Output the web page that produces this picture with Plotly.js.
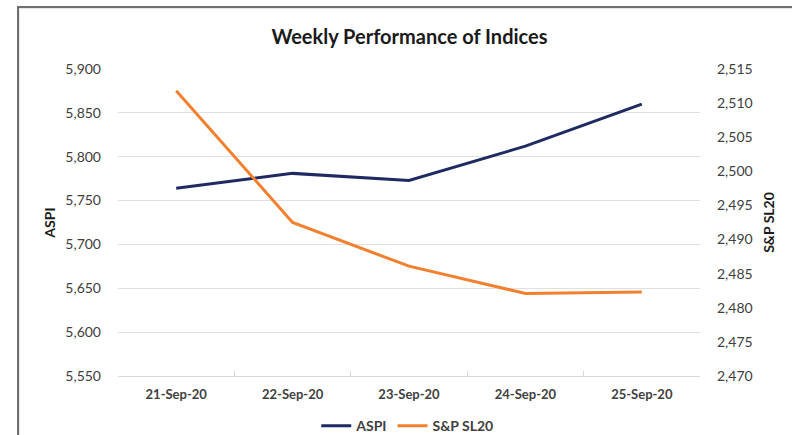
<!DOCTYPE html>
<html>
<head>
<meta charset="utf-8">
<script src="https://cdn.plot.ly/plotly-3.0.1.min.js"></script>
<style>
  html, body { margin: 0; padding: 0; background: #ffffff; overflow: hidden; }
  #chart { width: 792px; height: 435px; }
  #frame { position: absolute; left: 17px; top: 6px; width: 900px; height: 600px;
           border-left: 2px solid #6f6f6f; border-top: 2px solid #6f6f6f;
           box-shadow: inset 1px 1px 0 #e6e6e6; pointer-events: none; }
</style>
</head>
<body>
<div id="chart"></div>
<div id="frame"></div>
<script>
const dates = ["21-Sep-20", "22-Sep-20", "23-Sep-20", "24-Sep-20", "25-Sep-20"];
const aspi = [5764, 5781, 5773, 5812, 5860];
const spsl20 = [2511.8, 2492.5, 2486.1, 2482.1, 2482.3];
const leftTicks = [5550, 5600, 5650, 5700, 5750, 5800, 5850, 5900];
const rightTicks = [2470, 2475, 2480, 2485, 2490, 2495, 2500, 2505, 2510, 2515];

const font = "Lato, 'Open Sans', sans-serif";

const traces = [
  { x: dates, y: aspi, name: "ASPI", type: "scatter", mode: "lines",
    line: { color: "#1f2a63", width: 3 }, yaxis: "y" },
  { x: dates, y: spsl20, name: "S&P SL20", type: "scatter", mode: "lines",
    line: { color: "#f3802f", width: 3 }, yaxis: "y2" }
];

const layout = {
  width: 792, height: 435,
  margin: { l: 118, r: 92, t: 69, b: 59, autoexpand: false },
  paper_bgcolor: "#ffffff", plot_bgcolor: "#ffffff",
  font: { family: font, color: "#404040", size: 14 },
  title: { text: "<b>Weekly Performance of Indices</b>", x: 0.517, xanchor: "center",
           y: 0.915, yanchor: "middle", font: { family: font, size: 20, color: "#1a1a1a" } },
  showlegend: true,
  legend: { orientation: "h", x: 0.497, xanchor: "center", y: -0.163, yanchor: "middle",
            font: { family: font, size: 14, color: "#404040", weight: "bold" },
            itemwidth: 30, tracegroupgap: 0 },
  xaxis: { type: "category", range: [-0.5, 4.5], showgrid: false,
           showline: true, linecolor: "#d9d9d9", linewidth: 1,
           tickson: "boundaries", ticks: "inside", ticklen: 5, tickcolor: "#d9d9d9",
           tickfont: { family: font, size: 13, color: "#404040", weight: "bold" },
           ticklabelstandoff: 6, fixedrange: true },
  yaxis: { range: [5550, 5900], tickvals: leftTicks, tickformat: ",d",
           showgrid: true, gridcolor: "#e0e0e0", gridwidth: 1, zeroline: false,
           showline: false, ticks: "", ticklabelstandoff: 16,
           title: { text: "<b>ASPI</b>", font: { family: font, size: 14, color: "#1a1a1a" }, standoff: 6 } },
  yaxis2: { range: [2470, 2515], tickvals: rightTicks, tickformat: ",d",
            overlaying: "y", side: "right", showgrid: false, zeroline: false,
            showline: false, ticks: "", ticklabelstandoff: 16,
            title: { text: "<b>S&P SL20</b>", font: { family: font, size: 14, color: "#1a1a1a" }, standoff: 12 } }
};

Plotly.newPlot("chart", traces, layout, { displayModeBar: false, staticPlot: true });
</script>
</body>
</html>
